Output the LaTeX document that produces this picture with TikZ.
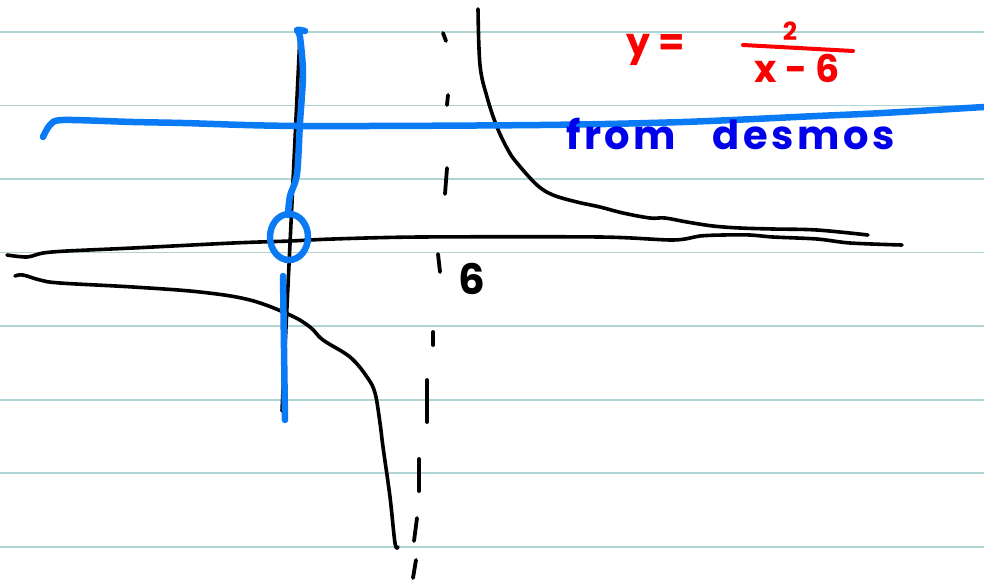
\documentclass[tikz,border=0pt]{standalone}
\usepackage{fontspec}
\setmainfont{Poppins}
\usepackage{tikz}
\usetikzlibrary{positioning}
\definecolor{ruleline}{RGB}{176,212,212}
\definecolor{penblue}{RGB}{10,122,245}
\definecolor{inkblue}{RGB}{0,0,235}
\definecolor{inkred}{RGB}{250,0,0}

\begin{document}
\begin{tikzpicture}[
      x=1pt, y=-1pt,
      ruled/.style={ruleline, line width=1.6pt},
      pen/.style={black, line width=3.6pt, line cap=round, line join=round},
      marker/.style={penblue, line width=6.5pt, line cap=round, line join=round},
      asym/.style={black, line width=3.8pt, line cap=round},
      hand/.style={font=\fontsize{38}{42}\selectfont\bfseries, inner sep=0pt},
      handwide/.style={font=\fontsize{40}{44}\selectfont\bfseries\addfontfeatures{LetterSpace=9}, inner sep=0pt},
      handsmall/.style={font=\fontsize{25}{28}\selectfont\bfseries, inner sep=0pt}
  ]
    \useasboundingbox[fill=white] (0,0) rectangle (984,581);

    % --- Notebook ruling ---
    \foreach \y in {32,105.5,179,252.5,326,400,473,547} {
      \draw[ruled] (0,\y) -- (984,\y);
    }

    % --- Black axes ---
    \draw[pen] plot[smooth] coordinates {(7,255) (27,257) (43,253) (67,251)
      (133,248) (233,243) (290,241) (333,239) (420,237) (600,237) (673,240)
      (700,236) (723,235) (750,235) (773,237) (817,239) (850,243) (902,245)};
    \draw[pen] (300,35) -- (282,411);

    % --- Vertical asymptote x = 6 (hand drawn dashes) ---
    \foreach \xa/\ya/\xb/\yb in {443/33/446/41, 448/95/447/105, 447/168/445/194,
        438/254/440/272, 433/332/433/345, 427/380/427/422, 419/459/419/491,
        417/518/414/541, 416/560/413/578} {
      \draw[asym] (\xa,\ya) -- (\xb,\yb);
    }
    \node[hand, font=\fontsize{42}{46}\selectfont\bfseries] (six) at (472,279) {6};

    % --- Branches of y = 2/(x-6) ---
    \draw[pen] plot[smooth, tension=0.6] coordinates {(478,9) (480,65) (487,97)
      (497,127) (508,150) (517,163) (537,185) (553,195) (577,202) (600,207)
      (623,213) (650,218) (665,218) (687,222) (713,226) (740,228) (773,229)
      (817,230) (868,235)};
    \draw[pen] plot[smooth, tension=0.6] coordinates {(15,276) (23,275) (40,280)
      (60,283) (133,287) (200,292) (250,300) (290,315) (310,327) (323,340)
      (350,357) (367,377) (375,393) (380,423) (383,447) (390,497) (395,543)
      (398,547)};

    % --- Blue marker: axes as drawn in desmos ---
    \draw[marker] plot[smooth, tension=0.5] coordinates {(43,137) (50,125)
      (63,120) (133,122) (183,123) (300,126) (540,125) (683,122) (817,116)
      (883,113) (984,107)};
    \draw[marker] plot[smooth, tension=0.5] coordinates {(305,31) (297,30)
      (300,37) (303,74) (300,122) (297,174) (290,196) (288,215)};
    \draw[marker] (289,237) ellipse[x radius=19, y radius=23];
    \draw[marker] (283,276) -- (285,420);
    \node[handwide, inkblue, anchor=base west] (txtfrom) at (566,149) {from};
    \node[handwide, inkblue, right=36pt of txtfrom.base east,
      anchor=base west] (txtdesmos) {desmos};

    % --- Equation label ---
    \node[hand, inkred] (eqlhs) at (656,50) {y =};
    \node[handsmall, inkred] (eqnum) at (790,31) {2};
    \node[hand, inkred] (eqden) at (797,68) {x - 6};
    \draw[inkred, line width=4pt, line cap=round] (743,45) -- (853,51);

  \end{tikzpicture}
\end{document}
